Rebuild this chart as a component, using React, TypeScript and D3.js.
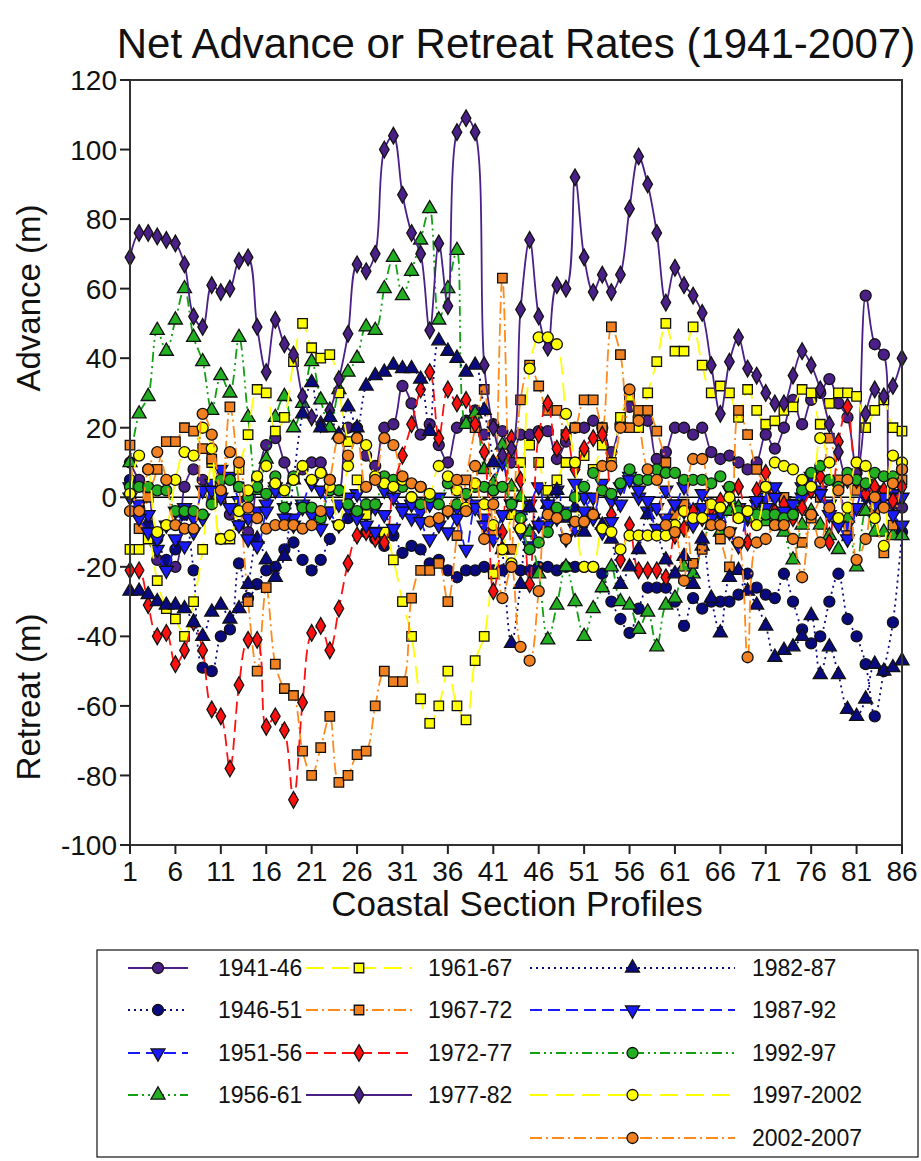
import React from "react";
import * as d3 from "d3";

const profiles = d3.range(1, 87);
const yTicks = [-100, -80, -60, -40, -20, 0, 20, 40, 60, 80, 100, 120];
const xTicks = [1, 6, 11, 16, 21, 26, 31, 36, 41, 46, 51, 56, 61, 66, 71, 76, 81, 86];

const s1941_46 = [10,5,2,-18,-20,-20,3,8,5,0, 2,-5,-8,-10,5,15,17,10,5,8, 10,10,5,2,20,20,12,9,20,21, 32,27,18,21,15,10,20,22,25,18, 21,19,10,18,18,19,19,11,16,20, 20,22,20,13,21,26,23,22,11,13, 20,20,18,20,13,11,12,10,8,10, 18,14,20,28,21,28,30,34,27,23, 7,58,44,41,-2,-3];
const s1946_51 = [5,-3,-8,-12,-18,-15,-5,-21,-49,-50, -40,-38,-19,-29,-25,-21,-20,-15,-13,-18, -21,-18,-12,-8,-6,-5,-10,-12,-14,-11, -16,-14,-15,-19,-18,-21,-23,-21,-21,-20, -21,-21,-20,-21,-21,-20,-20,-21,-20,-20, -20,-20,-22,-30,-35,-39,-32,-26,-26,-26, -30,-37,-29,-32,-30,-30,-30,-28,-22,-26, -28,-29,-22,-30,-38,-42,-40,-30,-22,-35, -40,-48,-63,-50,-36,-10];
const s1951_56 = [0,-2,-5,-15,-21,-12,-3,-6,2,4, 8,6,-1,-6,-4,-2,3,-3,-6,-2, 4,2,-4,-8,-3,1,-5,-3,2,0, -3,-6,-4,-2,0,-4,-3,1,-2,-6, 3,10,-2,-5,-2,3,-8,2,-4,4, 0,-6,4,-1,3,6,0,-4,-3,2, -2,3,-4,1,-2,-5,2,-3,-6,-2, 0,3,-1,-4,0,4,2,-2,3,-8, -3,0,2,-2,1,0];
const s1956_61 = [10,24,29,48,42,51,60,46,39,25, 35,30,46,23,2,11,23,29,20,27, 39,28,20,31,36,40,49,48,60,69, 58,65,74,83,51,60,71,21,24,8, 4,15,3,0,-10,-22,-41,-31,-20,-30, -40,-32,-26,-20,-30,-31,-38,-33,-43,-31, -29,-20,-22,-14,-8,-10,-4,-3,-6,-4, -7,-5,-10,-18,-8,-4,-8,-11,-15,-6, -20,-4,-10,-10,-11,-11];
const s1961_67 = [-15,-15,-12,-24,-32,-35,-40,-30,-15,10, -12,-12,8,18,31,30,19,23,39,50, 43,40,41,30,16,5,-5,-10,-10,-18, -30,-40,-58,-65,-60,-50,-60,-64,-47,-40, -22,-15,-5,10,15,10,2,5,10,10, 12,8,15,10,23,29,20,30,39,50, 42,42,49,38,30,32,30,23,31,25, 21,22,25,26,31,30,21,27,30,30, 29,20,25,28,20,19];
const s1967_72 = [15,-9,0,8,16,16,20,19,14,11, 0,26,3,-30,-50,-26,-48,-55,-57,-73, -80,-72,-63,-82,-80,-74,-73,-60,-50,-53, -53,-29,-21,-21,-19,-30,-11,5,20,31, -10,63,-15,28,38,32,25,25,18,20, 28,28,20,49,41,20,25,25,19,10, -5,-2,-19,-15,-5,-12,-20,25,18,8, 3,-8,0,-2,-13,-6,0,17,5,-11, 2,3,-4,-16,-8,5];
const s1972_77 = [-21,-21,-31,-40,-39,-48,-44,-36,-44,-61, -63,-78,-54,-41,-41,-66,-63,-67,-87,-59, -39,-37,-44,-32,-19,-11,-10,-12,-13,3, 12,21,31,36,17,31,27,28,21,13, -27,-10,17,5,-25,18,27,14,18,8, 14,17,18,-5,-18,-8,-21,-21,-21,-23, -11,-9,-4,-6,-3,-1,0,3,-13,2, 7,-4,-2,-6,-3,2,6,-13,16,26, 5,1,3,2,-1,3];
const s1977_82 = [69,76,76,75,74,73,67,52,49,61, 59,60,68,69,49,36,51,44,41,29, 23,21,25,34,47,67,65,70,100,104, 87,76,70,48,73,55,105,109,105,38, 20,12,14,54,74,52,43,61,60,92, 69,59,64,59,64,83,98,90,76,56, 66,61,58,53,38,24,39,46,37,35, 30,27,27,35,42,38,31,21,13,5, 7,24,31,29,32,40];
const s1982_87 = [-27,-27,-28,-30,-31,-31,-32,-36,-40,-33, -31,-35,-32,-25,-12,-18,-23,-17,5,24, 33,20,23,18,26,20,32,35,36,38, 37,37,34,19,45,42,40,36,38,25, 10,-15,-42,-25,-3,-8,-2,2,-6,-3, -10,-5,-8,-12,-25,-20,-15,-5,-10,-18, -22,-17,-25,-12,-29,-39,-23,-21,-27,-31, -37,-46,-44,-43,-40,-34,-51,-43,-51,-61, -63,-58,-48,-50,-49,-47];
const s1987_92 = [3,-6,-10,-12,-8,-4,-14,-10,-6,2, 0,-3,-8,-12,-14,-4,2,-6,-8,-3, -5,-9,-4,-2,0,-6,-8,-10,-5,-9, -4,-2,-7,-12,-8,-10,-6,-15,-3,-8, -12,-5,-2,-10,-14,-8,-2,-6,-12,-9, -4,0,-10,-7,-2,5,2,-1,-9,-6, -2,-4,-8,-3,-6,-4,-10,-14,-5,-1, -3,0,-4,-2,3,6,1,-5,-8,-12, -3,4,-2,0,-5,-8];
const s1992_97 = [3,3,3,2,2,-4,-4,-4,-5,-2, 5,5,3,0,3,1,6,-3,6,-3, -3,-6,2,2,-2,-4,-2,-2,6,5, 3,0,-2,0,-2,4,-2,1,3,3, 2,3,-2,-6,-15,-13,-10,-3,-5,0, 3,7,2,1,4,8,5,5,8,7, 7,5,5,5,4,6,3,-4,-4,-5, -5,-5,-6,-5,2,7,9,5,3,7, 5,4,7,6,6,8];
const s1997_2002 = [1,12,8,-10,-8,5,13,12,20,14, -12,-11,-4,2,6,9,4,2,5,9, 5,7,3,-8,9,17,15,6,4,3, 5,0,3,1,9,6,2,-3,4,-2, -8,-15,-19,-9,37,46,46,44,24,10, -20,-20,-9,-10,-15,-11,-11,-11,-11,-11, -8,-4,-6,-6,-2,-3,0,-6,-4,-8, 3,10,9,8,5,3,17,10,-6,-3, 10,9,-6,-14,12,10];
const s2002_07 = [-4,-4,8,13,5,-8,-9,-9,24,18, 2,13,10,-3,-6,-9,-8,-8,-8,-9, -8,-4,5,17,12,17,3,5,17,15, 6,4,3,-7,-6,-4,5,-4,9,-12, -2,-29,-20,-43,-47,-27,-5,-6,-12,-7, -7,-5,9,9,20,31,22,8,5,-8, -10,-24,11,11,-8,-8,-10,-13,-46,-13, -12,-8,-8,-12,-23,-5,-13,-3,2,5, -18,-12,0,-3,4,8];

type Marker = "circle" | "square" | "triangle" | "down" | "diamond";
interface Series { name: string; values: number[]; line: string; fill: string; dash: string | null; marker: Marker; }

const PURPLE = "#4a2088";
const NAVY = "#0a0a80";
const BLUE = "#1a1aff";
const GREEN = "#10a010";
const YELLOW = "#ffff00";
const ORANGE = "#ff8a1a";
const RED = "#ff1010";

const DOT = "2,4";
const DASH = "12,6";
const DASHDOTDOT = "10,4,2,4,2,4";
const LONGDASH = "18,8";
const DASHDOT = "12,4,2,4";

const seriesList: Series[] = [
  { name: "1941-46", values: s1941_46, line: PURPLE, fill: PURPLE, dash: null, marker: "circle" },
  { name: "1946-51", values: s1946_51, line: NAVY, fill: NAVY, dash: DOT, marker: "circle" },
  { name: "1951-56", values: s1951_56, line: BLUE, fill: BLUE, dash: DASH, marker: "down" },
  { name: "1956-61", values: s1956_61, line: GREEN, fill: "#22b022", dash: DASHDOTDOT, marker: "triangle" },
  { name: "1961-67", values: s1961_67, line: YELLOW, fill: YELLOW, dash: LONGDASH, marker: "square" },
  { name: "1967-72", values: s1967_72, line: ORANGE, fill: "#f08020", dash: DASHDOT, marker: "square" },
  { name: "1972-77", values: s1972_77, line: RED, fill: RED, dash: DASH, marker: "diamond" },
  { name: "1977-82", values: s1977_82, line: PURPLE, fill: PURPLE, dash: null, marker: "diamond" },
  { name: "1982-87", values: s1982_87, line: NAVY, fill: NAVY, dash: DOT, marker: "triangle" },
  { name: "1987-92", values: s1987_92, line: BLUE, fill: BLUE, dash: DASH, marker: "down" },
  { name: "1992-97", values: s1992_97, line: GREEN, fill: "#22b022", dash: DASHDOTDOT, marker: "circle" },
  { name: "1997-2002", values: s1997_2002, line: YELLOW, fill: YELLOW, dash: LONGDASH, marker: "circle" },
  { name: "2002-2007", values: s2002_07, line: ORANGE, fill: "#f08020", dash: DASHDOT, marker: "circle" },
];

const W = 921, H = 1161;
const PL = 130, PR = 902, PT = 80, PB = 845;
const FONT = "'Liberation Sans', Arial, sans-serif";

const x = d3.scaleLinear().domain([1, 86]).range([PL, PR]);
const y = d3.scaleLinear().domain([-100, 120]).range([PB, PT]);

function markerPath(m: Marker): string {
  const gen = d3.symbol();
  if (m === "circle") return gen.type(d3.symbolCircle).size(95)() as string;
  if (m === "square") return gen.type(d3.symbolSquare).size(90)() as string;
  if (m === "triangle" || m === "down") return gen.type(d3.symbolTriangle).size(85)() as string;
  return gen.type(d3.symbolDiamond).size(80)() as string;
}

function MarkerShape({ m, cx, cy, fill }: { m: Marker; cx: number; cy: number; fill: string }) {
  const rot = m === "down" ? " rotate(180)" : "";
  return (
    <path d={markerPath(m)} transform={`translate(${cx},${cy})${rot}`} fill={fill} stroke="#111" strokeWidth={1.3} />
  );
}

const lineGen = d3
  .line<number>()
  .x((_, i) => x(profiles[i]))
  .y((d) => y(d))
  .curve(d3.curveCatmullRom.alpha(0.5));

const legendCols = [
  { lineX0: 128, lineX1: 188, label: 218, items: seriesList.slice(0, 4) },
  { lineX0: 306, lineX1: 412, label: 428, items: seriesList.slice(4, 8) },
  { lineX0: 530, lineX1: 735, label: 752, items: seriesList.slice(8, 13) },
];
const legendRows = [968, 1010, 1053, 1095, 1138];

export default function App() {
  return (
    <svg width={W} height={H} style={{ display: "block", position: "absolute", left: 0, top: 0, fontFamily: FONT }}>
      <rect x={0} y={0} width={W} height={H} fill="#fff" />
      <text x={516} y={58} textAnchor="middle" fontSize={42} fill="#111">
        Net Advance or Retreat Rates (1941-2007)
      </text>

      <line x1={PL} x2={PR} y1={y(0)} y2={y(0)} stroke="#000" strokeWidth={1.5} />

      {seriesList.map((s) => (
        <g key={s.name}>
          <path
            d={lineGen(s.values) as string}
            fill="none"
            stroke={s.line}
            strokeWidth={1.8}
            strokeDasharray={s.dash ?? undefined}
          />
          {s.values.map((v, i) => (
            <MarkerShape key={i} m={s.marker} cx={x(profiles[i])} cy={y(v)} fill={s.fill} />
          ))}
        </g>
      ))}

      <rect x={PL} y={PT} width={PR - PL} height={PB - PT} fill="none" stroke="#333" strokeWidth={2} />

      {yTicks.map((t) => (
        <g key={t}>
          <line x1={PL - 10} x2={PL} y1={y(t)} y2={y(t)} stroke="#222" strokeWidth={2} />
          <text x={PL - 13} y={y(t)} dy="0.36em" textAnchor="end" fontSize={28} fill="#111">
            {t}
          </text>
        </g>
      ))}
      {xTicks.map((t) => (
        <g key={t}>
          <line x1={x(t)} x2={x(t)} y1={PB} y2={PB + 9} stroke="#222" strokeWidth={2} />
          <text x={x(t)} y={PB + 36} textAnchor="middle" fontSize={28} fill="#111">
            {t}
          </text>
        </g>
      ))}
      <text x={517} y={916} textAnchor="middle" fontSize={35} fill="#111">
        Coastal Section Profiles
      </text>
      <text transform={`translate(40,298) rotate(-90)`} textAnchor="middle" fontSize={33} fill="#111">
        Advance (m)
      </text>
      <text transform={`translate(40,697) rotate(-90)`} textAnchor="middle" fontSize={33} fill="#111">
        Retreat (m)
      </text>

      <rect x={97} y={950} width={821} height={207} fill="#fff" stroke="#111" strokeWidth={1.2} />
      {legendCols.map((c, ci) =>
        c.items.map((s, ri) => {
          const ly = legendRows[ri];
          const mx = (c.lineX0 + c.lineX1) / 2;
          return (
            <g key={`${ci}-${ri}`}>
              <line x1={c.lineX0} x2={c.lineX1} y1={ly} y2={ly} stroke={s.line} strokeWidth={1.8} strokeDasharray={s.dash ?? undefined} />
              <MarkerShape m={s.marker} cx={mx} cy={ly} fill={s.fill} />
              <text x={c.label} y={ly} dy="0.36em" fontSize={23} fill="#111">
                {s.name}
              </text>
            </g>
          );
        })
      )}
    </svg>
  );
}
